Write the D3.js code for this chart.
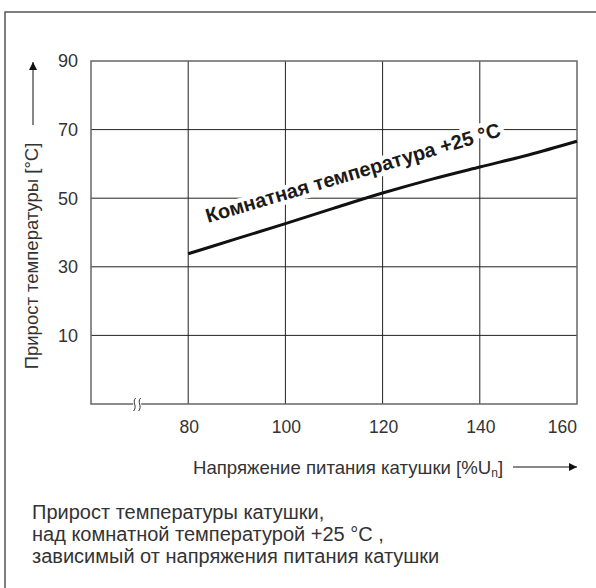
<!DOCTYPE html>
<html>
<head>
<meta charset="utf-8">
<script src="https://cdn.jsdelivr.net/npm/d3@7"></script>
<style>
  body { margin: 0; background: #fff; }
  text { font-family: "Liberation Sans", Arial, sans-serif; fill: #333; }
</style>
</head>
<body>
<svg id="chart" width="596" height="588"></svg>
<script>
// напряжение питания, %Un
var voltage = [80, 90, 100, 110, 120, 130, 140, 150, 160]
// прирост температуры, °C
var tempRise = [33.8, 38.2, 42.6, 47.1, 51.5, 55.5, 59.1, 62.6, 66.6]
var xTicks = [80, 100, 120, 140, 160]
var yTicks = [10, 30, 50, 70, 90]
var caption = [
  'Прирост температуры катушки,',
  'над комнатной температурой +25 °C ,',
  'зависимый от напряжения питания катушки'
]

var svg = d3.select('#chart')

var x = d3.scaleLinear().domain([60, 160]).range([91, 577])
var y = d3.scaleLinear().domain([-10, 90]).range([404, 61])

var defs = svg.append('defs')
defs.append('marker')
  .attr('id', 'arr')
  .attr('viewBox', '0 0 10 10')
  .attr('refX', 10).attr('refY', 5)
  .attr('markerWidth', 14).attr('markerHeight', 8)
  .attr('markerUnits', 'userSpaceOnUse')
  .attr('orient', 'auto')
  .append('path')
  .attr('d', 'M0,0 L10,5 L0,10 z')
  .attr('fill', '#111')

// внешняя рамка (только слева и сверху)
svg.append('path')
  .attr('d', 'M5,588 L5,12 L596,12')
  .attr('fill', 'none')
  .attr('stroke', '#555')
  .attr('stroke-width', 1.5)

// сетка
var grid = svg.append('g')
grid.selectAll('.vg')
  .data(xTicks.slice(0, -1))
  .enter().append('line')
  .attr('x1', function(d) { return x(d) })
  .attr('x2', function(d) { return x(d) })
  .attr('y1', y(-10)).attr('y2', y(90))
  .attr('stroke', '#222').attr('stroke-width', 1)
grid.selectAll('.hg')
  .data(yTicks.slice(0, -1))
  .enter().append('line')
  .attr('x1', x(60)).attr('x2', x(160))
  .attr('y1', function(d) { return y(d) })
  .attr('y2', function(d) { return y(d) })
  .attr('stroke', '#222').attr('stroke-width', 1)

// рамка графика
svg.append('rect')
  .attr('x', x(60)).attr('y', y(90))
  .attr('width', x(160) - x(60))
  .attr('height', y(-10) - y(90))
  .attr('fill', 'none')
  .attr('stroke', '#666')
  .attr('stroke-width', 1.5)

// разрыв оси
var bx = x(69.5), by = y(-10)
svg.append('rect')
  .attr('x', bx - 4).attr('y', by - 2).attr('width', 8).attr('height', 4)
  .attr('fill', '#fff')
;[-2.5, 2.5].forEach(function(o) {
  svg.append('path')
    .attr('d', 'M' + (bx + o + 1) + ',' + (by - 6) +
      ' C' + (bx + o - 3) + ',' + (by - 2) + ' ' + (bx + o + 3) + ',' + (by + 2) + ' ' + (bx + o - 1) + ',' + (by + 7))
    .attr('fill', 'none')
    .attr('stroke', '#333')
    .attr('stroke-width', 1)
})

// подписи осей
svg.selectAll('.ytick')
  .data(yTicks)
  .enter().append('text')
  .attr('x', 78)
  .attr('y', function(d) { return y(d) })
  .attr('dy', '0.36em')
  .attr('text-anchor', 'end')
  .attr('font-size', 18)
  .text(function(d) { return d })

// последняя подпись прижата к правому краю
svg.selectAll('.xtick')
  .data(xTicks)
  .enter().append('text')
  .attr('x', function(d, i) { return i === xTicks.length - 1 ? x(d) : x(d) + 1 })
  .attr('y', 433)
  .attr('text-anchor', function(d, i) { return i === xTicks.length - 1 ? 'end' : 'middle' })
  .attr('font-size', 17.5)
  .text(function(d) { return d })

// кривая
var line = d3.line()
  .x(function(d, i) { return x(voltage[i]) })
  .y(function(d) { return y(d) })
  .curve(d3.curveMonotoneX)

// подпись кривой с белым фоном
svg.append('text')
  .attr('transform', 'translate(208,223) rotate(-16.5)')
  .attr('font-size', 20)
  .attr('font-weight', 'bold')
  .attr('stroke', '#fff')
  .attr('stroke-width', 9)
  .attr('stroke-linejoin', 'round')
  .style('paint-order', 'stroke')
  .style('fill', '#1a1a1a')
  .text('Комнатная температура +25 °C')

svg.append('path')
  .datum(tempRise)
  .attr('d', line)
  .attr('fill', 'none')
  .attr('stroke', '#111')
  .attr('stroke-width', 3)

// ось Y: название и стрелка
svg.append('text')
  .attr('transform', 'translate(38,256) rotate(-90)')
  .attr('text-anchor', 'middle')
  .attr('font-size', 18.5)
  .text('Прирост температуры [°C]')
svg.append('line')
  .attr('x1', 33).attr('x2', 33)
  .attr('y1', 125).attr('y2', 62)
  .attr('stroke', '#111').attr('stroke-width', 1)
  .attr('marker-end', 'url(#arr)')

// ось X: название и стрелка
var xl = svg.append('text')
  .attr('x', 193).attr('y', 473.5)
  .attr('font-size', 18.6)
xl.append('tspan').text('Напряжение питания катушки [%U')
xl.append('tspan').attr('font-size', 12).attr('dy', 3).text('n')
xl.append('tspan').attr('dy', -3).text(']')
svg.append('line')
  .attr('x1', 513).attr('x2', 577)
  .attr('y1', 467).attr('y2', 467)
  .attr('stroke', '#111').attr('stroke-width', 1)
  .attr('marker-end', 'url(#arr)')

// пояснение
svg.selectAll('.cap')
  .data(caption)
  .enter().append('text')
  .attr('x', 32)
  .attr('y', function(d, i) { return 519 + i * 22 })
  .attr('font-size', 20)
  .text(function(d) { return d })
</script>
</body>
</html>
